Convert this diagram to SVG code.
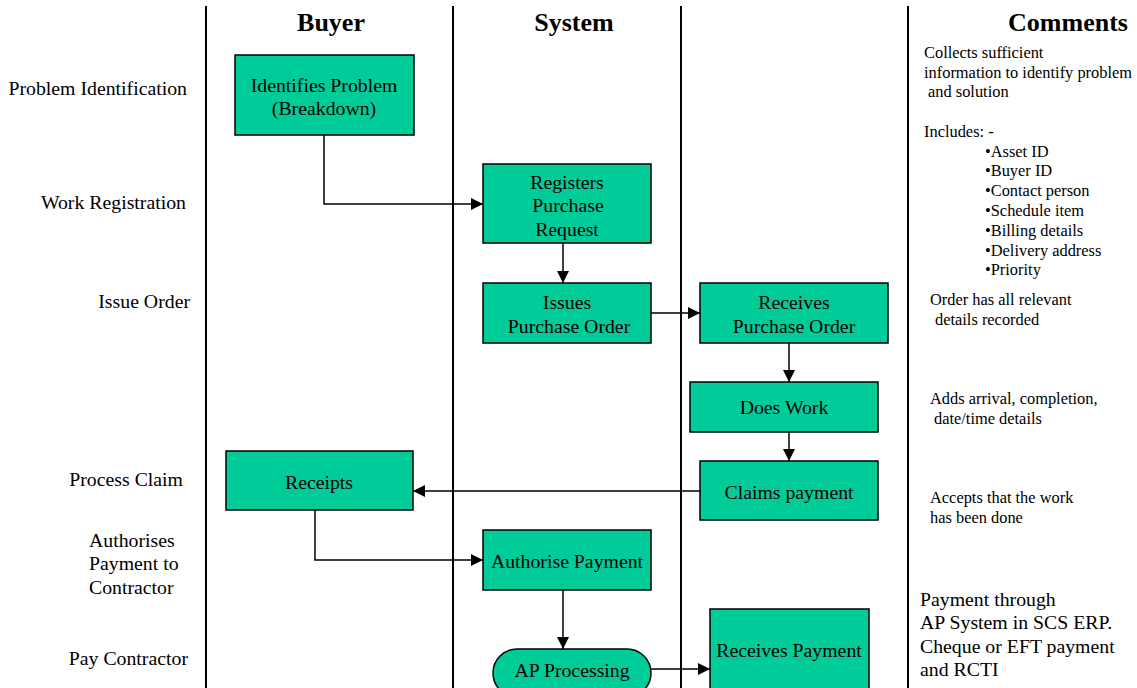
<svg xmlns="http://www.w3.org/2000/svg" width="1137" height="688" viewBox="0 0 1137 688">
<defs>
<style>
text{font-family:"Liberation Serif","Times New Roman",serif;fill:#000}
.hdr{font-size:26px;font-weight:bold;text-anchor:middle}
.lbl{font-size:19.8px}
.node rect{fill:#00CC99;stroke:#000;stroke-width:1.5}
.node text{font-size:19.8px;text-anchor:middle}
.cm{font-size:16.4px}
.cm2{font-size:19.8px}
.lane{stroke:#000;stroke-width:2}
.conn path{fill:none;stroke:#000;stroke-width:1.5}
</style>
<marker id="ah" viewBox="0 0 10 10" refX="10" refY="5" markerWidth="12" markerHeight="12" markerUnits="userSpaceOnUse" orient="auto">
<path d="M0,0 L10,5 L0,10 z" fill="#000"/>
</marker>
</defs>
<rect width="1137" height="688" fill="#fff"/>
<g id="lanes">
<line class="lane" x1="206" y1="6" x2="206" y2="688"/>
<line class="lane" x1="453" y1="6" x2="453" y2="688"/>
<line class="lane" x1="681" y1="6" x2="681" y2="688"/>
<line class="lane" x1="908" y1="6" x2="908" y2="688"/>
</g>
<g id="headers">
<text class="hdr" x="331" y="31">Buyer</text>
<text class="hdr" x="574" y="31">System</text>
<text class="hdr" x="1068" y="31">Comments</text>
</g>
<g id="stages" class="lbl">
<text x="187" y="95" text-anchor="end">Problem Identification</text>
<text x="186" y="209" text-anchor="end">Work Registration</text>
<text x="190" y="308" text-anchor="end">Issue Order</text>
<text x="183" y="486" text-anchor="end">Process Claim</text>
<text x="89" y="547">Authorises</text>
<text x="89" y="570">Payment to</text>
<text x="89" y="594">Contractor</text>
<text x="188" y="665" text-anchor="end">Pay Contractor</text>
</g>
<g id="connectors" class="conn">
<path d="M324,135 V204 H483" marker-end="url(#ah)"/>
<path d="M563,243 V283" marker-end="url(#ah)"/>
<path d="M651,313 H700" marker-end="url(#ah)"/>
<path d="M789,343 V382" marker-end="url(#ah)"/>
<path d="M789,432 V461" marker-end="url(#ah)"/>
<path d="M700,491 H413" marker-end="url(#ah)"/>
<path d="M315,510 V560 H483" marker-end="url(#ah)"/>
<path d="M563,590 V649" marker-end="url(#ah)"/>
<path d="M651,669 H710" marker-end="url(#ah)"/>
</g>
<g id="n-identify" class="node">
<rect x="235" y="55" width="179" height="80"/>
<text x="324" y="92">Identifies Problem</text>
<text x="324" y="115">(Breakdown)</text>
</g>
<g id="n-register" class="node">
<rect x="483" y="164" width="168" height="79"/>
<text x="567" y="189">Registers</text>
<text x="568" y="212">Purchase</text>
<text x="567" y="236">Request</text>
</g>
<g id="n-issue" class="node">
<rect x="483" y="283" width="168" height="60"/>
<text x="567" y="309">Issues</text>
<text x="569" y="333">Purchase Order</text>
</g>
<g id="n-receivepo" class="node">
<rect x="700" y="283" width="188" height="60"/>
<text x="794" y="309">Receives</text>
<text x="794" y="333">Purchase Order</text>
</g>
<g id="n-work" class="node">
<rect x="690" y="382" width="188" height="50"/>
<text x="784" y="414">Does Work</text>
</g>
<g id="n-claim" class="node">
<rect x="700" y="461" width="178" height="59"/>
<text x="789" y="499">Claims payment</text>
</g>
<g id="n-receipts" class="node">
<rect x="226" y="451" width="187" height="59"/>
<text x="319" y="489">Receipts</text>
</g>
<g id="n-authorise" class="node">
<rect x="483" y="530" width="168" height="60"/>
<text x="567" y="568">Authorise Payment</text>
</g>
<g id="n-ap" class="node">
<rect x="493" y="649" width="158" height="48" rx="24" ry="24"/>
<text x="572" y="677">AP Processing</text>
</g>
<g id="n-receivepay" class="node">
<rect x="710" y="609" width="159" height="100"/>
<text x="789" y="657">Receives Payment</text>
</g>
<g id="comments" class="cm">
<text x="924" y="58">Collects sufficient</text>
<text x="924" y="78">information to identify problem</text>
<text x="928" y="97">and solution</text>
<text x="924" y="137">Includes: -</text>
<text x="985" y="157">•Asset ID</text>
<text x="985" y="176">•Buyer ID</text>
<text x="985" y="196">•Contact person</text>
<text x="985" y="216">•Schedule item</text>
<text x="985" y="236">•Billing details</text>
<text x="985" y="256">•Delivery address</text>
<text x="985" y="275">•Priority</text>
<text x="930" y="305">Order has all relevant</text>
<text x="935" y="325">details recorded</text>
<text x="930" y="404">Adds arrival, completion,</text>
<text x="934" y="424">date/time details</text>
<text x="930" y="503">Accepts that the work</text>
<text x="930" y="523">has been done</text>
</g>
<g id="comments-pay" class="cm2">
<text x="920" y="606">Payment through</text>
<text x="920" y="629">AP System in SCS ERP.</text>
<text x="920" y="653">Cheque or EFT payment</text>
<text x="920" y="676">and RCTI</text>
</g>
</svg>
